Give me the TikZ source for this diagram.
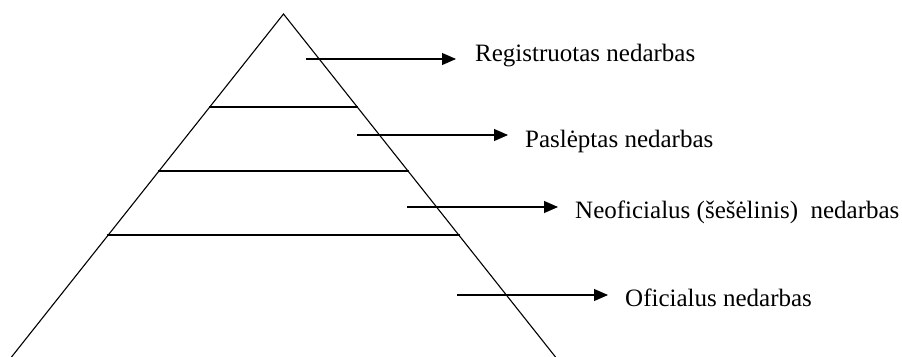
\documentclass[tikz,border=0pt]{standalone}
\usepackage{fontspec}
\setmainfont{Liberation Serif}
\usetikzlibrary{arrows.meta}
\begin{document}
\begin{tikzpicture}[x=1pt,y=-1pt,
  edge/.style={line width=1.1pt,line cap=round},
  pointer/.style={line width=1.1pt,-{Triangle[length=14pt,width=12pt]}},
  label/.style={anchor=base west,inner sep=0pt,font=\fontsize{25}{30}\selectfont}]
\useasboundingbox (0,0) rectangle (902,356);
% pyramid
\coordinate (apex) at (283.5,14);
\coordinate (bl) at (11.5,357);
\coordinate (br) at (555.5,357);
\draw[edge] (bl) -- (apex) -- (br);
% layer lines
\coordinate (l1a) at (209.5,107); \coordinate (l1b) at (357.5,107);
\coordinate (l2a) at (158.5,171); \coordinate (l2b) at (408.5,171);
\coordinate (l3a) at (107.5,235); \coordinate (l3b) at (459.5,235);
\draw[edge] (l1a) -- (l1b);
\draw[edge] (l2a) -- (l2b);
\draw[edge] (l3a) -- (l3b);
% labels
\node[label] (t1) at (475,61) {Registruotas nedarbas};
\node[label] (t2) at (525,147) {Paslėptas nedarbas};
\node[label] (t3) at (575,218) {Neoficialus (šešėlinis)\ \ nedarbas};
\node[label] (t4) at (625,306) {Oficialus nedarbas};
% arrows
\coordinate (s1) at (306,59);  \coordinate (e1) at (456,59);
\coordinate (s2) at (357,135); \coordinate (e2) at (508,135);
\coordinate (s3) at (407,207); \coordinate (e3) at (558,207);
\coordinate (s4) at (457,295); \coordinate (e4) at (608,295);
\draw[pointer] (s1) -- (e1);
\draw[pointer] (s2) -- (e2);
\draw[pointer] (s3) -- (e3);
\draw[pointer] (s4) -- (e4);
\end{tikzpicture}
\end{document}
